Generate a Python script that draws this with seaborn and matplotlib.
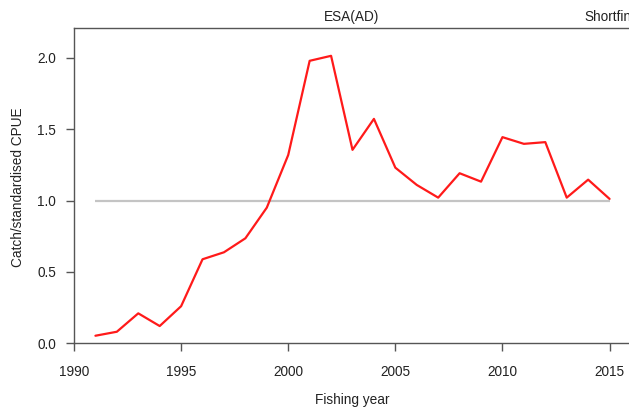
import matplotlib
matplotlib.use("Agg")
import matplotlib.pyplot as plt
import seaborn as sns
import pandas as pd

# Annual catch / standardised CPUE ratio
years = list(range(1991, 2016))
ratio = [0.053, 0.081, 0.21, 0.121, 0.26, 0.589, 0.638, 0.736, 0.951, 1.32,
         1.98, 2.015, 1.356, 1.573, 1.231, 1.11, 1.021, 1.192, 1.133, 1.445,
         1.398, 1.41, 1.021, 1.147, 1.012]
reference_level = 1.0
x_ticks = [1990, 1995, 2000, 2005, 2010, 2015]
y_ticks = [0.0, 0.5, 1.0, 1.5, 2.0]

df = pd.DataFrame({"year": years, "ratio": ratio})

sns.set_theme(style="white")
plt.rcParams["font.family"] = ["Liberation Sans", "DejaVu Sans"]

W, H = 629, 409
fig = plt.figure(figsize=(W / 100, H / 100), dpi=100)
ax = fig.add_axes([74 / W, 1 - 343.3 / H, (631 - 74) / W, (343.3 - 28) / H])

axis_col = "#555555"
text_col = "#222222"
fs = 9.8

# reference line at ratio = 1
ax.plot([years[0], years[-1]], [reference_level, reference_level],
        color="#c4c4c4", lw=1.6, solid_capstyle="butt", zorder=1)

sns.lineplot(data=df, x="year", y="ratio", ax=ax, color="#ff1a1a", lw=1.6,
             zorder=2)

ax.set_xlim(1990, 2016)
ax.set_ylim(0, 2.21)
ax.set_xticks(x_ticks)
ax.set_xticklabels([str(t) for t in x_ticks])
ax.set_yticks(y_ticks)
ax.set_yticklabels([f"{t:.1f}" for t in y_ticks])

for side in ["left", "bottom", "top"]:
    ax.spines[side].set_visible(True)
    ax.spines[side].set_color(axis_col)
    ax.spines[side].set_linewidth(1.0)
ax.spines["right"].set_visible(False)

ax.tick_params(axis="both", which="major", direction="out", length=5.8,
               width=1.0, color=axis_col, labelsize=fs, labelcolor=text_col,
               bottom=True, left=True, top=False, right=False)
ax.tick_params(axis="y", pad=7)
ax.tick_params(axis="x", pad=10)

ax.set_xlabel("")
ax.set_ylabel("")
fig.text(352 / W, 1 - 400 / H, "Fishing year", ha="center", va="center",
         fontsize=fs, color=text_col)
fig.text(18 / W, 1 - 187 / H, "Catch/standardised CPUE", ha="center",
         va="center", rotation=90, fontsize=fs, color=text_col)

fig.text(352 / W, 1 - 17 / H, "ESA(AD)", ha="center", va="center",
         fontsize=fs, color=text_col)
fig.text(584 / W, 1 - 17 / H, "Shortfin", ha="left", va="center",
         fontsize=fs, color=text_col)

fig.savefig("out.png", dpi=100)
